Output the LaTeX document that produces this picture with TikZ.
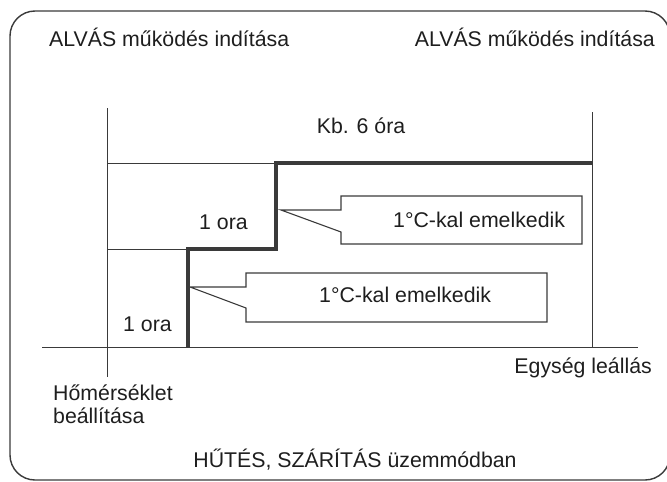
\documentclass[tikz,border=0pt]{standalone}
\usepackage{fontspec}
\setmainfont{Liberation Sans}
\usetikzlibrary{positioning}

\definecolor{linegray}{HTML}{3A3A3A}
\definecolor{textgray}{HTML}{1E1E1E}

\begin{document}
\begin{tikzpicture}[x=1pt, y=-1pt,
    lbl/.style = {inner sep=0pt, text=textgray, font=\fontsize{21.3}{23}\selectfont},
    thin line/.style = {draw=linegray, line width=0.9pt},
    thick line/.style = {draw=linegray, line width=3.1pt},
    callout/.style = {draw=linegray, line width=1.1pt, line join=miter}]
            \useasboundingbox (0,0) rectangle (667,482);
            \clip (0,0) rectangle (667,482);
            \draw[linegray, line width=1.4pt, rounded corners=25pt] (10,11) rectangle (670,480);

            % time axis and markers
            \coordinate (axL) at (42,347);
            \coordinate (axR) at (638,347);
            \coordinate (start top) at (107,108);
            \coordinate (start bot) at (107,377);
            \coordinate (stop top) at (592,112);
            \coordinate (stop bot) at (592,347);
            \path[thin line] (axL) edge (axR);
            \path[thin line] (start top) edge (start bot);
            \path[thin line] (stop top) edge (stop bot);

            % temperature steps
            \coordinate (s0) at (188,347);
            \coordinate (s1) at (188,249);
            \coordinate (s2) at (276,249);
            \coordinate (s3) at (276,163);
            \coordinate (s4) at (592,163);
            \draw[thin line] (107,249) -- (s1);
            \draw[thin line] (107,163) -- (s3);
            \draw[thick line, line join=miter] (s0) -- (s1) -- (s2) -- (s3) -- (s4);

            % callouts
            \coordinate (tipA) at (281,210);
            \coordinate (tipB) at (190,287);
            \draw[callout] (341,196) -- (582,196) -- (582,244) -- (341,244) -- (341,232) -- (tipA) -- (341,210) -- cycle;
            \draw[callout] (246,273) -- (547,273) -- (547,322) -- (246,322) -- (246,308) -- (tipB) -- (246,287) -- cycle;

            \node[lbl, anchor=base west] (startL) at (49,46) {ALVÁS működés indítása};
            \node[lbl, anchor=base east] (startR) at (655,46) {ALVÁS működés indítása};
            \node[lbl, anchor=base] (hours) at (361,133) {Kb. 6 óra};
            \node[lbl, anchor=base west] (hourA) at (199,229) {1 ora};
            \node[lbl, anchor=base west] (hourB) at (123,331) {1 ora};
            \node[lbl, anchor=base west] (riseA) at (393,227) {1°C-kal emelkedik};
            \node[lbl, anchor=base west] (riseB) at (319,302) {1°C-kal emelkedik};
            \node[lbl, anchor=base east] (stop) at (652,373) {Egység leállás};
            \node[lbl, anchor=base west, align=left] (setT) at (53,423) {Hőmérséklet\\beállítása};
            \node[lbl, anchor=base] (mode) at (355,467) {HŰTÉS, SZÁRÍTÁS üzemmódban};
        \end{tikzpicture}
\end{document}
